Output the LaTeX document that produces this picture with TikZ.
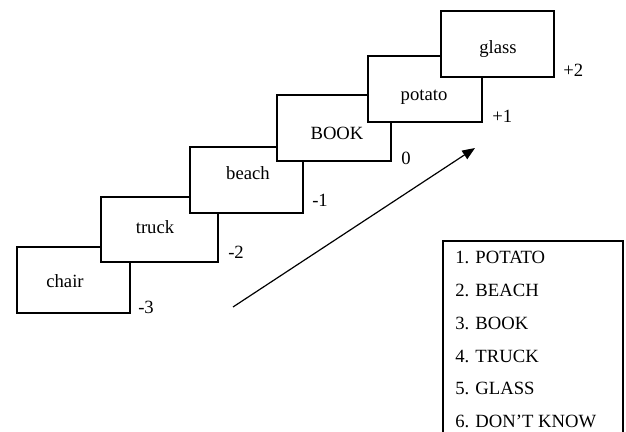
\documentclass[tikz,border=0pt]{standalone}
\usepackage{fontspec}
\setmainfont{Liberation Serif}
\usetikzlibrary{arrows.meta}
\begin{document}
\begin{tikzpicture}[x=0.75pt,y=-0.75pt,
  font=\fontsize{14}{16}\selectfont,
  card/.style={draw=black,fill=white,line width=0.9pt,anchor=north west,inner sep=0pt,outer sep=0pt},
  word/.style={anchor=base,inner sep=0pt},
  offs/.style={anchor=base west,inner sep=0pt},
  item/.style={anchor=base west,inner sep=0pt}]
\useasboundingbox (0,0) rectangle (626,432);
% cards, later ones on top
\node[card,minimum width=84.75pt,minimum height=49.5pt] (chair) at (17,247) {};
\node[card,minimum width=87.75pt,minimum height=48.75pt] (truck) at (101,197) {};
\node[card,minimum width=84.75pt,minimum height=49.5pt] (beach) at (190,147) {};
\node[card,minimum width=85.5pt,minimum height=49.5pt] (book) at (277,95) {};
\node[card,minimum width=85.5pt,minimum height=49.5pt] (potato) at (368,56) {};
\node[card,minimum width=84.75pt,minimum height=49.5pt] (glass) at (441,11) {};
% words
\node[word] (wchair) at (65,287) {chair};
\node[word] (wtruck) at (155,233) {truck};
\node[word] (wbeach) at (248,179) {beach};
\node[word] (wbook) at (337,139) {BOOK};
\node[word] (wpotato) at (424,100) {potato};
\node[word] (wglass) at (498,54) {glass};
% offsets
\node[offs] (ochair) at (138,313) {-3};
\node[offs] (otruck) at (228,258) {-2};
\node[offs] (obeach) at (312,206) {-1};
\node[offs] (obook) at (401,164) {0};
\node[offs] (opotato) at (492,122) {+1};
\node[offs] (oglass) at (563,76) {+2};
% arrow
\coordinate (as) at (233,307);
\coordinate (ae) at (475,148);
\draw[line width=0.9pt,-{Triangle[length=9.5pt,width=7.5pt]}] (as) -- (ae);
% list box (open at the bottom edge of the picture)
\coordinate (lb1) at (443,433);
\coordinate (lb2) at (443,241);
\coordinate (lb3) at (623,241);
\coordinate (lb4) at (623,433);
\draw[line width=0.9pt] (lb1) -- (lb2) -- (lb3) -- (lb4);
\node[item] (i1) at (455,263) {1. POTATO};
\node[item] (i2) at (455,296) {2. BEACH};
\node[item] (i3) at (455,329) {3. BOOK};
\node[item] (i4) at (455,362) {4. TRUCK};
\node[item] (i5) at (455,394) {5. GLASS};
\node[item] (i6) at (455,427) {6. DON’T KNOW};
\end{tikzpicture}
\end{document}
